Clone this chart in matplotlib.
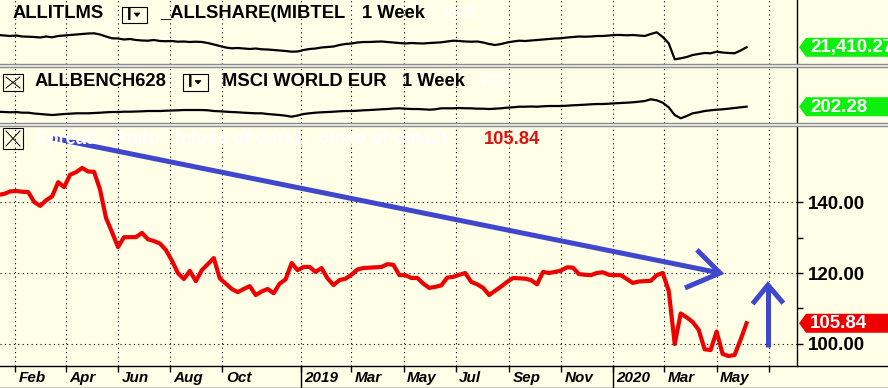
import numpy as np
import pandas as pd
import matplotlib
matplotlib.use("Agg")
import matplotlib.pyplot as plt
import matplotlib.dates as mdates
import matplotlib.transforms as mtransforms
from matplotlib.patches import Polygon, Rectangle
from matplotlib.lines import Line2D

plt.rcParams['font.family'] = ['Liberation Sans', 'DejaVu Sans']

# -----------------------------
# Data (weekly closes)
# -----------------------------
dates = pd.date_range("2018-01-12", periods=126, freq="W-FRI")

allshare = [25469, 25304, 25139, 25304, 24974, 24908, 24809, 24644, 24974, 24710,
            25139, 25304, 25469, 25634, 25799, 25964, 26030, 25634, 24974, 24380,
            24314, 23984, 24149, 23819, 23654, 23588, 23819, 23489, 23423, 23489,
            23258, 23324, 23159, 23258, 23159, 22829, 22334, 21839, 21344, 21080,
            21179, 21014, 20849, 21014, 20750, 20684, 20519, 20354, 20189, 19958,
            20024, 20519, 20849, 21014, 21344, 21509, 21674, 22169, 22499, 22664,
            22994, 23159, 23159, 23258, 23324, 23159, 22994, 22829, 22664, 22829,
            22730, 22664, 22829, 22928, 23060, 23324, 23588, 23489, 23324, 23258,
            23324, 22994, 22499, 22169, 22499, 22994, 23324, 23588, 23489, 23654,
            23819, 23984, 24149, 24314, 24380, 24644, 24809, 24974, 24908, 24974,
            25139, 25139, 25304, 25469, 25469, 25370, 25469, 25304, 25139, 25799,
            26360, 24809, 22730, 17450, 17780, 18209, 18869, 19199, 19529, 19430,
            19958, 19694, 19529, 19430, 20354, 21410.27]

msci = [186.3, 185.3, 184.4, 185.3, 183.1, 183.1, 180.5, 178.9, 177.3, 175.7,
        177.3, 178.9, 179.9, 181.2, 181.2, 181.2, 182.1, 183.1, 184.4, 185.3,
        185.3, 186.3, 186.3, 186.9, 187.6, 188.5, 188.5, 188.5, 189.5, 190.1,
        190.8, 191.7, 191.7, 191.7, 191.7, 190.8, 188.5, 187.6, 186.3, 185.3,
        184.4, 183.1, 182.1, 181.2, 181.2, 178.9, 177.3, 175.7, 173.5, 170.3,
        174.1, 178.9, 181.2, 183.1, 184.4, 185.3, 186.3, 187.6, 188.5, 188.5,
        189.5, 190.8, 191.7, 192.7, 194.0, 194.9, 196.5, 197.2, 195.9, 194.9,
        194.9, 194.0, 192.7, 194.0, 197.2, 197.2, 197.2, 198.1, 197.2, 197.2,
        195.9, 195.9, 194.9, 195.9, 197.2, 199.1, 200.4, 202.3, 202.3, 202.9,
        202.3, 203.6, 204.5, 204.5, 204.5, 205.5, 206.8, 207.7, 208.7, 210.0,
        210.9, 210.9, 211.9, 213.2, 214.1, 215.1, 216.4, 218.3, 220.5, 226.0,
        222.8, 215.1, 200.4, 175.7, 165.2, 172.5, 181.2, 184.4, 188.5, 190.8,
        192.7, 194.0, 195.9, 198.1, 200.4, 202.28]

spread = [142.0, 142.3, 143.0, 143.1, 142.9, 142.8, 140.0, 138.9, 140.5, 141.6,
          145.6, 144.2, 147.7, 148.4, 149.6, 148.6, 148.5, 143.5, 135.5, 131.5,
          127.3, 130.1, 130.1, 130.1, 131.3, 129.5, 129.0, 128.3, 126.5, 123.5,
          120.0, 118.3, 120.6, 117.7, 120.8, 122.5, 124.2, 118.5, 117.0, 115.5,
          114.6, 115.5, 116.3, 113.8, 114.8, 115.5, 114.3, 117.0, 118.2, 122.8,
          120.8, 121.7, 121.7, 120.3, 121.4, 118.5, 116.6, 118.0, 118.4, 119.5,
          121.0, 121.4, 121.5, 121.6, 121.7, 122.5, 122.3, 119.4, 119.4, 118.6,
          118.6, 117.0, 115.8, 116.1, 116.5, 118.7, 118.9, 119.5, 120.0, 117.5,
          116.8, 115.8, 113.8, 115.0, 116.2, 117.5, 118.6, 118.5, 118.4, 118.0,
          116.8, 120.3, 120.0, 120.3, 120.7, 121.6, 121.5, 119.7, 119.5, 119.4,
          120.0, 120.2, 119.5, 119.4, 119.4, 118.3, 117.2, 117.6, 117.7, 117.8,
          119.4, 120.0, 115.0, 100.0, 108.6, 107.5, 106.2, 104.0, 98.5, 98.3,
          103.5, 97.2, 96.6, 96.9, 101.2, 105.84]

tick_dates = ["2018-02-01", "2018-04-01", "2018-06-01", "2018-08-01", "2018-10-01",
              "2019-01-01", "2019-03-01", "2019-05-01", "2019-07-01", "2019-09-01",
              "2019-11-01", "2020-01-01", "2020-03-01", "2020-05-01", "2020-07-01"]
tick_labels = ["Feb", "Apr", "Jun", "Aug", "Oct", "2019", "Mar", "May", "Jul", "Sep",
               "Nov", "2020", "Mar", "May", ""]
year_ticks = ["2019-01-01", "2020-01-01"]

y_ticks = [100, 120, 140]
y_minor = [110, 130]

# hand-drawn trend arrows (date, value)
trend_line = (["2018-03-17", "2020-05-05"], [158.0, 120.0])
trend_head = (["2020-04-08", "2020-05-05", "2020-03-25"], [126.5, 120.0, 115.8])
up_shaft = (["2020-06-30", "2020-06-30"], [99.2, 116.6])
up_head = (["2020-06-12", "2020-06-30", "2020-07-18"], [111.3, 116.6, 111.5])

# -----------------------------
# Layout helpers (pixels)
# -----------------------------
W, H = 888, 388
BG = "#fffee6"
BLUE = "#3f48cc"
GREEN = "#0def0d"

def box(x0, y0, x1, y1):
    return [x0 / W, 1 - y1 / H, (x1 - x0) / W, (y1 - y0) / H]

def fx(px):
    return px / W

def fy(py):
    return 1 - py / H

fig = plt.figure(figsize=(W / 100, H / 100), dpi=100)
fig.patch.set_facecolor(BG)

ax1 = fig.add_axes(box(0, 0, 797, 63.5))
ax2 = fig.add_axes(box(0, 66.5, 797, 123.3))
ax3 = fig.add_axes(box(0, 125.7, 797, 366))

x_lo = mdates.date2num(pd.Timestamp("2018-01-14"))
x_hi = mdates.date2num(pd.Timestamp("2020-08-03"))
tick_nums = mdates.date2num(pd.to_datetime(tick_dates))
dot = (0, (1, 3))

for ax in (ax1, ax2, ax3):
    ax.set_facecolor(BG)
    ax.set_xlim(x_lo, x_hi)
    for s in ("left", "top", "bottom"):
        ax.spines[s].set_visible(False)
    ax.spines["right"].set_color("black")
    ax.spines["right"].set_linewidth(1)
    ax.set_xticks(tick_nums)
    ax.grid(axis="x", color="black", lw=0.8, ls=dot)

for ax in (ax1, ax2):
    ax.tick_params(axis="x", length=0, labelbottom=False)
    ax.set_yticks([])

# --- top panes ---
ax1.plot(dates, allshare, color="black", lw=1.6)
ax1.set_ylim(16064, 37019)
ax2.plot(dates, msci, color="black", lw=1.6)
ax2.set_ylim(149.2, 330.9)

# --- spread pane ---
ax3.plot(dates, spread, color="#ee0000", lw=3.0, solid_joinstyle="round")
ax3.set_ylim(93.8, 161.5)
ax3.yaxis.tick_right()
ax3.set_yticks(y_ticks)
ax3.set_yticklabels(["%.2f" % v for v in y_ticks], fontsize=13.5, fontweight="bold")
ax3.set_yticks(y_minor, minor=True)
ax3.tick_params(axis="y", which="both", direction="out", length=4, width=1, pad=4)
ax3.grid(axis="y", which="major", color="black", lw=0.8, ls=dot)
ax3.tick_params(axis="x", direction="out", length=4.5, width=1, labelbottom=False)

for xs, ys in (trend_line, trend_head, up_shaft, up_head):
    ax3.plot(pd.to_datetime(xs), ys, color=BLUE, lw=3.6,
             solid_capstyle="butt", solid_joinstyle="miter")

# date labels to the right of the ticks
lab_tr = mtransforms.offset_copy(
    mtransforms.blended_transform_factory(ax3.transData, fig.transFigure),
    fig=fig, x=3.5, y=0, units="dots")
for d, lab in zip(tick_nums, tick_labels):
    ax3.text(d, fy(378), lab, transform=lab_tr, fontsize=11, fontweight="bold",
             fontstyle="italic", ha="left", va="center", clip_on=False)

yr_tr = mtransforms.blended_transform_factory(ax3.transData, fig.transFigure)
for d in mdates.date2num(pd.to_datetime(year_ticks)):
    fig.add_artist(Line2D([d, d], [fy(366), fy(387)], transform=yr_tr,
                          color="black", lw=1))

# frame lines
fig.add_artist(Line2D([0, 1], [fy(366), fy(366)], color="black", lw=1))
fig.add_artist(Rectangle((0, 0), 1, 1.5 / H, facecolor="#c8c8c8",
                         edgecolor="none", transform=fig.transFigure))
for ya, yb in ((63.5, 66.5), (123.3, 125.7)):
    fig.add_artist(Rectangle((0, fy(yb)), 1, (yb - ya) / H, facecolor="#f4f4f4",
                             edgecolor="none", transform=fig.transFigure))
    fig.add_artist(Line2D([0, 1], [fy(ya), fy(ya)], color="#8c8c8c", lw=1))
    fig.add_artist(Line2D([0, 1], [fy(yb), fy(yb)], color="#8c8c8c", lw=1))

# -----------------------------
# Pane headers
# -----------------------------
def xbox(x0, y0, x1, y1):
    fig.add_artist(Rectangle((fx(x0), fy(y1)), (x1 - x0) / W, (y1 - y0) / H,
                             facecolor="none", edgecolor="black", lw=0.8,
                             transform=fig.transFigure))
    m = 3
    fig.add_artist(Line2D([fx(x0 + m), fx(x1 - m)], [fy(y0 + m), fy(y1 - m)],
                          color="black", lw=0.7))
    fig.add_artist(Line2D([fx(x0 + m), fx(x1 - m)], [fy(y1 - m), fy(y0 + m)],
                          color="black", lw=0.7))

def dropdown(x0, y0, x1, y1):
    fig.add_artist(Rectangle((fx(x0), fy(y1)), (x1 - x0) / W, (y1 - y0) / H,
                             facecolor="none", edgecolor="black", lw=0.8,
                             transform=fig.transFigure))
    yc = (y0 + y1) / 2
    fig.text(fx(x0 + 5), fy(yc), "I", fontsize=12, fontweight="bold", va="center")
    tx = x0 + 15
    fig.add_artist(Polygon([(fx(tx - 3), fy(yc - 2)), (fx(tx + 3), fy(yc - 2)),
                            (fx(tx), fy(yc + 1.5))], closed=True,
                           facecolor="black", edgecolor="black", lw=0.5,
                           transform=fig.transFigure))

hdr = dict(fontsize=13.2, fontweight="bold", va="center")

fig.text(fx(13), fy(14), "ALLITLMS", **hdr)
dropdown(122, 7, 147, 23)
fig.text(fx(160), fy(14), "_ALLSHARE(MIBTEL", **hdr)
fig.text(fx(362), fy(14), "1 Week", **hdr)
fig.text(fx(442), fy(14), "V=0", color="white", **hdr)

xbox(3, 74, 23, 91)
fig.text(fx(35), fy(82), "ALLBENCH628", **hdr)
dropdown(183, 74, 208, 91)
fig.text(fx(222), fy(82), "MSCI WORLD EUR", **hdr)
fig.text(fx(402), fy(82), "1 Week", **hdr)
fig.text(fx(478), fy(82), "V=0", color="white", **hdr)

xbox(3, 128, 23, 149)
fig.text(fx(35), fy(139), "Spread - Ratio   (close of data1,  close of data2)",
         color="white", **hdr)
fig.text(fx(484), fy(139), "%.2f" % spread[-1], color="#e01010", **hdr)

# -----------------------------
# Last-value tags on the right
# -----------------------------
def tag(ax, value, text, color):
    disp_y = ax.transData.transform((x_hi, value))[1]
    py = H - disp_y
    pts = [(799, py), (806, py - 9.5), (892, py - 9.5), (892, py + 9.5), (806, py + 9.5)]
    fig.add_artist(Polygon([(fx(a), fy(b)) for a, b in pts], closed=True,
                           facecolor=color, edgecolor="none",
                           transform=fig.transFigure))
    fig.text(fx(810), fy(py + 0.5), text, color="white", fontsize=13.5,
             fontweight="bold", va="center")

tag(ax1, allshare[-1], "{:,.2f}".format(allshare[-1]), GREEN)
tag(ax2, msci[-1], "%.2f" % msci[-1], GREEN)
tag(ax3, spread[-1], "%.2f" % spread[-1], "#ee0000")

fig.savefig("out.png", dpi=100, facecolor=BG)
